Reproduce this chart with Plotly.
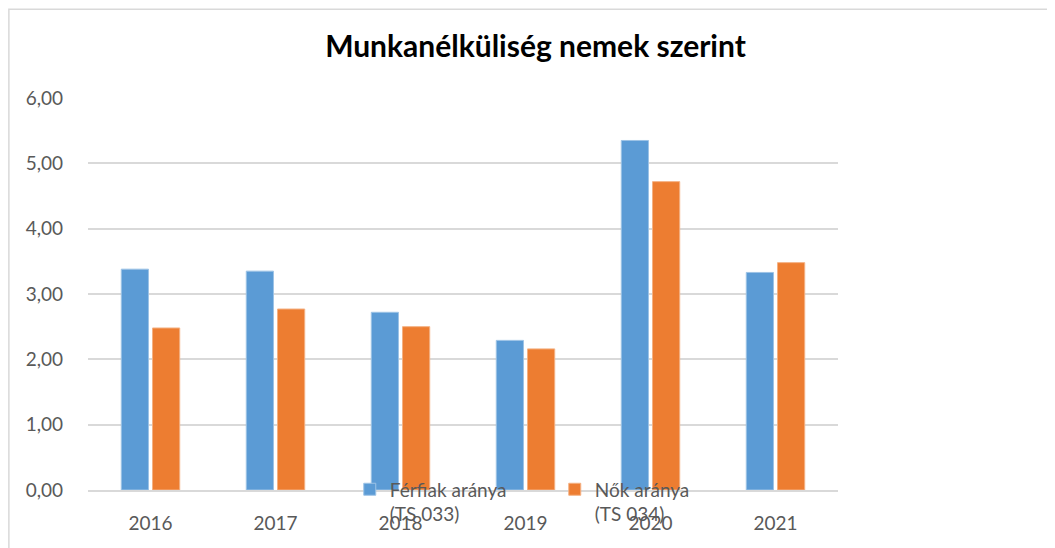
import plotly.graph_objects as go

years = ["2016", "2017", "2018", "2019", "2020", "2021"]
ferfiak = [3.38, 3.35, 2.72, 2.29, 5.35, 3.33]
nok = [2.48, 2.77, 2.50, 2.16, 4.72, 3.48]
series_names = ["Férfiak aránya<br>(TS 033)", "Nők aránya<br>(TS 034)"]

FONT = "Lato, 'Open Sans', sans-serif"
GRAY = "#595959"
GRID = "#D9D9D9"

fig = go.Figure()
fig.add_trace(go.Bar(x=years, y=ferfiak, name=series_names[0],
                     marker=dict(color="#5B9BD5", line=dict(color="#9DC3E6", width=1))))
fig.add_trace(go.Bar(x=years, y=nok, name=series_names[1],
                     marker=dict(color="#ED7D31", line=dict(color="#F4B183", width=1))))

# page has an 8px body margin, so the margins are pulled in by 8px
fig.update_layout(
    width=1055, height=548,
    margin=dict(l=80, r=225, t=89.5, b=65.5, autoexpand=False),
    paper_bgcolor="white", plot_bgcolor="white",
    separators=",.",
    barmode="group", bargap=0.5, bargroupgap=0.13,
    font=dict(family=FONT, color=GRAY, size=19),
    title=dict(text="<b>Munkanélküliség nemek szerint</b>",
               font=dict(family=FONT, size=30, color="black"),
               x=0.5, xref="container", xanchor="center",
               y=0.929, yref="container", yanchor="middle"),
    legend=dict(orientation="h", x=0.349, xanchor="left", y=0.05, yanchor="top",
                bgcolor="rgba(0,0,0,0)", valign="top",
                font=dict(family=FONT, size=19, color=GRAY),
                entrywidth=160, entrywidthmode="pixels", itemwidth=30),
    # chart-area frame (left and top edges visible, rest runs off the page)
    shapes=[dict(type="rect", xref="paper", yref="paper",
                 x0=-0.1055, x1=1.3, y0=-0.2, y1=1.2265,
                 line=dict(color=GRID, width=1.5), layer="below")],
)
fig.update_xaxes(showline=True, linecolor=GRID, linewidth=1.5, ticks="",
                 automargin=False,
                 ticklabelstandoff=15, tickfont=dict(size=19, color=GRAY))
fig.update_yaxes(range=[0, 6], dtick=1, tickformat=".2f", showgrid=True,
                 gridcolor=GRID, gridwidth=1.5, zeroline=False, ticks="",
                 automargin=False,
                 ticklabelstandoff=24, tickfont=dict(size=19, color=GRAY))

fig.write_html("out.html")
